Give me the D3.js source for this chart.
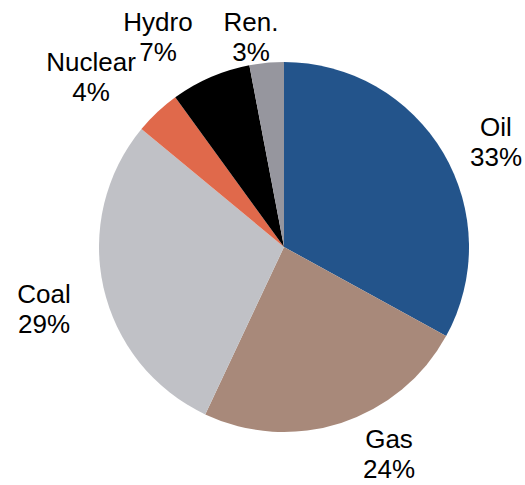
<!DOCTYPE html>
<html>
<head>
<meta charset="utf-8">
<script src="https://cdn.jsdelivr.net/npm/d3@7"></script>
<style>
  html, body { margin: 0; padding: 0; background: #fff; }
  svg { display: block; }
  text { font-family: "Liberation Sans", Arial, sans-serif; font-size: 26px; fill: #000; }
</style>
</head>
<body>
<svg id="chart" width="525" height="485"></svg>
<script>
// Energy mix shares, clockwise from 12 o'clock
const categories = ["Oil", "Gas", "Coal", "Nuclear", "Hydro", "Ren."];
const shares = [33, 24, 29, 4, 7, 3];
const colors = ["#23548B", "#A8897A", "#C0C1C6", "#E0694B", "#000000", "#96969E"];
// Label anchor positions (centre x, baseline of first line)
const labelPos = [[496, 136], [389, 448], [44, 303], [91, 71], [158, 31], [251, 31]];

const svg = d3.select("#chart");
const cx = 284, cy = 247, r = 185;

const data = categories.map((c, i) => ({ name: c, value: shares[i], color: colors[i] }));

const pie = d3.pie().value(d => d.value).sort(null);
const arc = d3.arc().innerRadius(0).outerRadius(r);

const g = svg.append("g").attr("transform", `translate(${cx},${cy})`);
g.selectAll("path")
  .data(pie(data))
  .join("path")
  .attr("d", arc)
  .attr("fill", d => d.data.color);

const labels = svg.append("g");
data.forEach((d, i) => {
  const [x, y] = labelPos[i];
  const t = labels.append("text").attr("text-anchor", "middle");
  t.append("tspan").attr("x", x).attr("y", y).text(d.name);
  t.append("tspan").attr("x", x).attr("y", y + 30).text(d.value + "%");
});
</script>
</body>
</html>
